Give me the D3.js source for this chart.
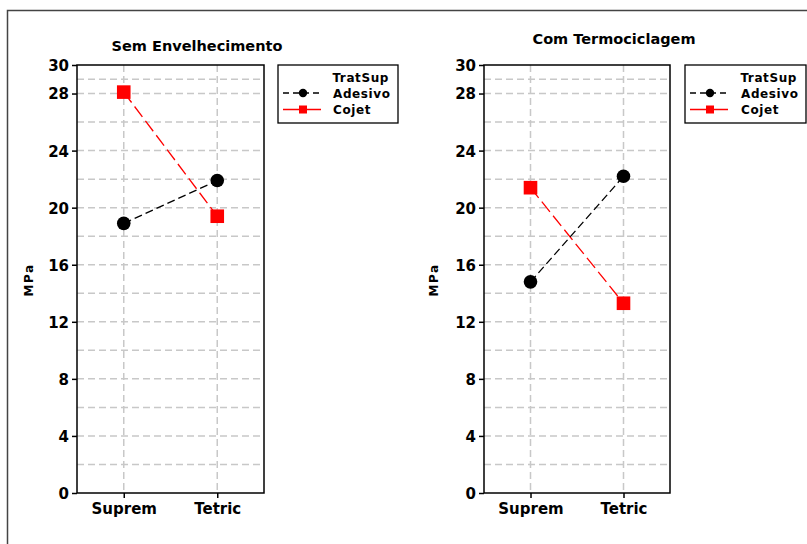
<!DOCTYPE html>
<html>
<head>
<meta charset="utf-8">
<script src="https://cdn.jsdelivr.net/npm/d3@7"></script>
<style>
body{margin:0;background:#fff}
text{font-family:"DejaVu Sans",Verdana,sans-serif;font-weight:bold;fill:#000}
</style>
</head>
<body>
<script>
var categories = ['Suprem','Tetric']
var seriesNames = ['Adesivo','Cojet']
var panelTitles = ['Sem Envelhecimento','Com Termociclagem']
var adesivo = [[18.9,21.9],[14.8,22.2]]
var cojet = [[28.1,19.4],[21.4,13.3]]
var yTicks = [0,4,8,12,16,20,24,28,30]
var gridVals = [2,4,6,8,10,12,14,16,18,20,22,24,26,28,29]

var svg = d3.select('body').append('svg').attr('width',807).attr('height',544)

// outer frame
svg.append('path').attr('d','M7.5 544 L7.5 10.5 L807 10.5')
	.style('fill','none').style('stroke','#444').style('stroke-width',1.5)

var panels = [
	{x0:77,x1:264,titleX:197,titleY:51,legX:278,legW:120,labX:33},
	{x0:484,x1:670,titleX:614,titleY:44,legX:685,legW:121,labX:438}
]

var y = d3.scaleLinear().domain([0,30]).range([493,65])

panels.forEach((p,pi)=>{
	var g = svg.append('g')
	var x = d3.scalePoint().domain(categories).range([p.x0,p.x1]).padding(0.5)

	// grid
	g.append('g').selectAll('line').data(gridVals).join('line')
		.attr('x1',p.x0).attr('x2',p.x1)
		.attr('y1',d=>y(d)).attr('y2',d=>y(d))
		.style('stroke','#c8c8c8').style('stroke-width',1.5).style('stroke-dasharray','7,4')
	g.append('g').selectAll('line').data(categories).join('line')
		.attr('x1',d=>x(d)).attr('x2',d=>x(d))
		.attr('y1',y(30)).attr('y2',y(0))
		.style('stroke','#c8c8c8').style('stroke-width',1.5).style('stroke-dasharray','7,4')

	g.append('rect').attr('x',p.x0).attr('y',y(30)).attr('width',p.x1-p.x0).attr('height',y(0)-y(30))
		.style('fill','none').style('stroke','#000').style('stroke-width',1.5)

	var ya = g.append('g').attr('transform',`translate(${p.x0},0)`)
		.call(d3.axisLeft(y).tickValues(yTicks).tickSize(5).tickPadding(3))
	ya.select('.domain').remove()
	ya.selectAll('line').style('stroke-width',1.5)
	ya.selectAll('text').style('font-size','15px').attr('dy','0.36em')

	var xa = g.append('g').attr('transform',`translate(0,${y(0)})`)
		.call(d3.axisBottom(x).tickSize(5).tickPadding(5))
	xa.select('.domain').remove()
	xa.selectAll('line').style('stroke-width',1.5)
	xa.selectAll('text').style('font-size','15px')

	g.append('text').text(panelTitles[pi])
		.attr('x',p.titleX).attr('y',p.titleY).attr('text-anchor','middle')
		.style('font-size','14.5px')

	g.append('text').text('MPa')
		.attr('transform',`translate(${p.labX},280) rotate(-90)`)
		.attr('text-anchor','middle').style('font-size','12px').style('letter-spacing','1.5px')

	var line = d3.line().x((d,i)=>x(categories[i])).y(d=>y(d))

	g.append('path').datum(cojet[pi]).attr('d',line)
		.style('fill','none').style('stroke','#ff0000').style('stroke-width',1.3).style('stroke-dasharray','13,5')
	g.append('path').datum(adesivo[pi]).attr('d',line)
		.style('fill','none').style('stroke','#000').style('stroke-width',1.3).style('stroke-dasharray','8,4')

	g.append('g').selectAll('circle').data(adesivo[pi]).join('circle')
		.attr('cx',(d,i)=>x(categories[i])).attr('cy',d=>y(d)).attr('r',6.8)
		.style('fill','#000')
	g.append('g').selectAll('rect').data(cojet[pi]).join('rect')
		.attr('x',(d,i)=>x(categories[i])-6.8).attr('y',d=>y(d)-6.8)
		.attr('width',13.6).attr('height',13.6).style('fill','#ff0000')

	// legend
	var lg = g.append('g').attr('transform',`translate(${p.legX},65)`)
	lg.append('rect').attr('width',p.legW).attr('height',58)
		.style('fill','#fff').style('stroke','#000').style('stroke-width',1.3)
	lg.append('text').text('TratSup').attr('x',p.legW-9).attr('y',17)
		.attr('text-anchor','end').style('font-size','12px').style('letter-spacing','0.6px')
	seriesNames.forEach((s,si)=>{
		var ly = 28+si*16.5
		var lx0 = 5, lx1 = 43, lm = 25
		lg.append('line').attr('x1',lx0).attr('x2',lx1).attr('y1',ly).attr('y2',ly)
			.style('stroke',si?'#ff0000':'#000').style('stroke-width',1.3)
			.style('stroke-dasharray',si?null:'6,4')
		if (si) lg.append('rect').attr('x',lm-4).attr('y',ly-4).attr('width',8).attr('height',8).style('fill','#ff0000')
		else lg.append('circle').attr('cx',lm).attr('cy',ly).attr('r',4.2).style('fill','#000')
		lg.append('text').text(s).attr('x',p.legW-65).attr('y',ly+4.5)
			.style('font-size','12px').style('letter-spacing','0.6px')
	})
})
</script>
</body>
</html>
